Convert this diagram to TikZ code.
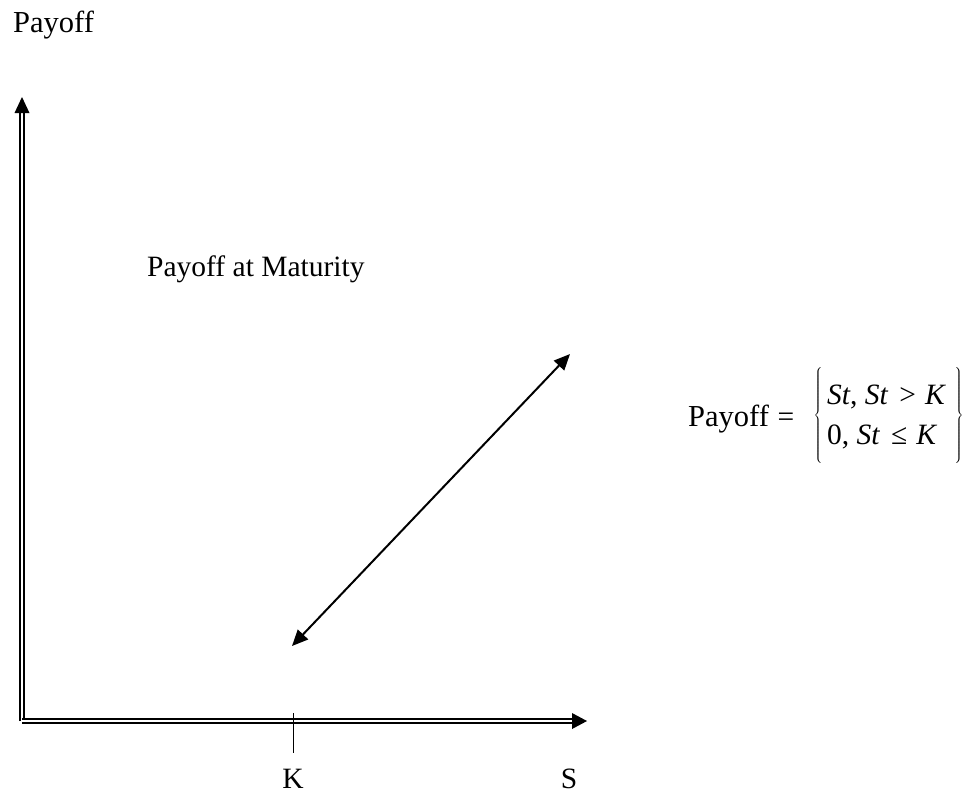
\RequirePackage{fix-cm}
\documentclass[tikz,border=0pt]{standalone}
\usepackage{fontspec}
\setmainfont{Liberation Serif}
\usetikzlibrary{arrows.meta}
\tikzset{
  lbl/.style={inner sep=0pt, anchor=base west, font=\fontsize{29.5}{36}\selectfont},
  big/.style={lbl, font=\fontsize{30.5}{36}\selectfont},
  brace/.style={inner sep=0pt, anchor=center, font=\fontsize{29}{36}\selectfont},
  axisline/.style={double, line width=1.4pt, double distance=2.4pt},
  head/.style={fill=black},
  diag/.style={line width=2pt, {Triangle[length=16pt,width=14pt]}-{Triangle[length=16pt,width=14pt]}},
}
\begin{document}
\begin{tikzpicture}[x=1pt,y=-1pt]
\useasboundingbox (0,0) rectangle (974,793);
% axes
\coordinate (O) at (22,721);
\coordinate (Ytop) at (22,97);
\coordinate (Xend) at (587,721);
\coordinate (Ybase) at (22,113);
\coordinate (Xbase) at (572,721);
\draw[axisline] (O) -- (Ybase);
\draw[axisline] (O) -- (Xbase);
\fill[head] (Ytop) -- ([xshift=-7.5pt,yshift=-16pt]Ytop) -- ([xshift=7.5pt,yshift=-16pt]Ytop) -- cycle;
\fill[head] (Xend) -- ([xshift=-15pt,yshift=8pt]Xend) -- ([xshift=-15pt,yshift=-8pt]Xend) -- cycle;
% tick at K
\coordinate (Kt) at (293,713);
\coordinate (Kb) at (293,753);
\draw[line width=1pt] (Kt) -- (Kb);
% diagonal payoff line
\coordinate (A) at (292,646);
\coordinate (B) at (570,354);
\draw[diag] (A) -- (B);
% labels
\node[big] (yl) at (13,32) {Payoff};
\node[lbl] (pm) at (147,276) {Payoff at Maturity};
\node[lbl, anchor=base] (kl) at (293,788) {K};
\node[lbl, anchor=base] (sl) at (569,788) {S};
% formula
\node[big] (fp) at (688,426) {Payoff};
\node[lbl, anchor=base] (eq) at (786,426) {=};
\node[brace] (lb) at (818,416) {$\nulldelimiterspace=0pt\left\{\vrule height 41pt depth 41pt width 0pt\right.$};
\node[brace] (rb) at (959,416) {$\nulldelimiterspace=0pt\left.\vrule height 41pt depth 41pt width 0pt\right\}$};
\node[lbl] (r1) at (827,404) {\textit{St}, \textit{St}\hspace{11pt}>\hspace{9pt}\textit{K}};
\node[lbl] (r2) at (827,444) {0, \textit{St}\hspace{11pt}≤\hspace{9pt}\textit{K}};
\end{tikzpicture}
\end{document}
